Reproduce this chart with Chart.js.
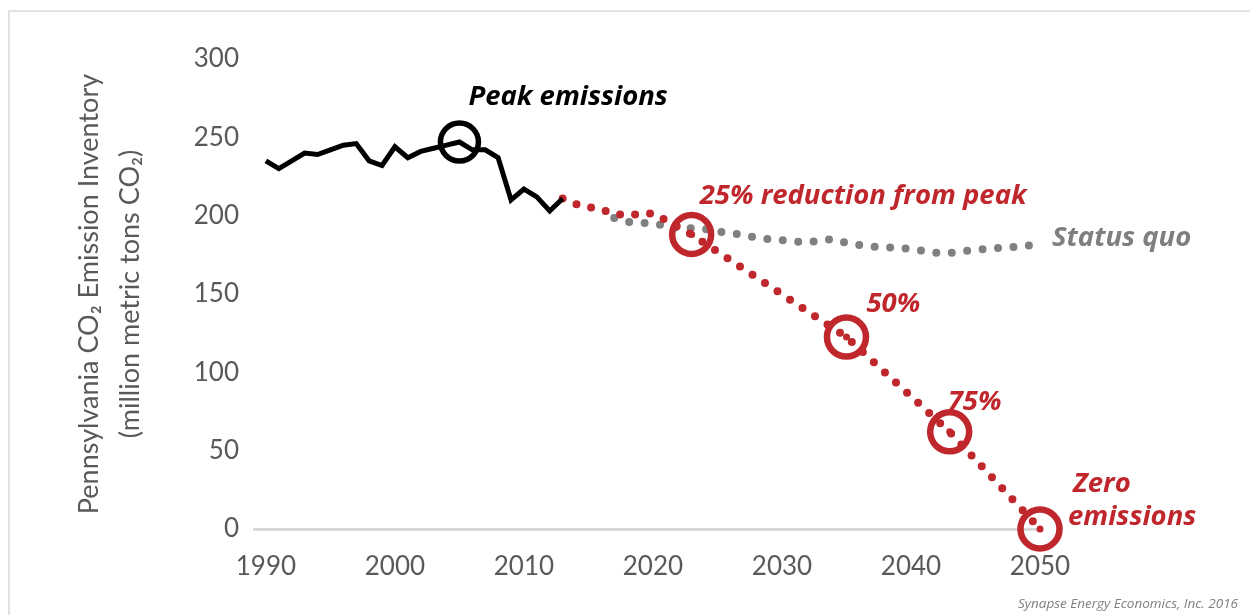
<!DOCTYPE html>
<html>
<head>
<meta charset="utf-8">
<script src="https://cdn.jsdelivr.net/npm/chart.js@4.4.0/dist/chart.umd.min.js"></script>
<style>
  html, body { margin: 0; padding: 0; background: #fff; }
  #wrap { position: relative; width: 1250px; height: 615px; overflow: hidden; }
  #frame { position: absolute; left: 8px; top: 10px; width: 1300px; height: 700px; border-top: 2px solid #e3e3e3; border-left: 2px solid #e3e3e3; }
  canvas { position: absolute; left: 0; top: 0; }
</style>
</head>
<body>
<div id="wrap">
  <div id="frame"></div>
  <canvas id="co2Chart" width="1250" height="615"></canvas>
</div>
<script>
// historic inventory
var histYears = [1990, 1991, 1992, 1993, 1994, 1995, 1996, 1997, 1998, 1999, 2000, 2001,
                 2002, 2003, 2004, 2005, 2006, 2007, 2008, 2009, 2010, 2011, 2012, 2013];
var histValues = [235, 230, 235, 240, 239, 242, 245, 246, 235, 232, 244, 237,
                  241, 243, 245, 247, 242, 242, 237, 210, 217, 212, 203, 211];

// status quo projection
var statusYears = [2017, 2018, 2019, 2020, 2021, 2022, 2023, 2024, 2025, 2026, 2027, 2028,
                   2029, 2030, 2031, 2032, 2033, 2034, 2035, 2036, 2037, 2038, 2039, 2040,
                   2041, 2042, 2043, 2044, 2045, 2046, 2047, 2048, 2049, 2050];
var statusValues = [198.5, 196, 195.5, 195, 193.5, 192, 192, 191.5, 190, 188.7, 187.8, 186,
                    185, 184.3, 183.5, 183, 184.3, 185, 182.5, 181.2, 180.3, 179.8, 179.5, 178.8,
                    177.5, 176.3, 176.2, 177.4, 178, 179, 179.5, 180, 180.8, 181.7];

// path to zero
var pathYears = [2013, 2014, 2015, 2016, 2017, 2018, 2019, 2020, 2023, 2035, 2043, 2050];
var pathValues = [211, 207.5, 205.5, 204, 201, 200.5, 201, 201.5, 188, 122.5, 62, 0];

// milestones on the path
var milestoneYears = [2023, 2035, 2043, 2050];
var milestoneValues = [188, 122.5, 62, 0];
var milestoneLabels = [['25% reduction from peak'], ['50%'], ['75%'], ['Zero', 'emissions']];

var peakYear = 2005;
var peakValue = 247;

var xTicks = [1990, 2000, 2010, 2020, 2030, 2040, 2050];
var yTicks = [0, 50, 100, 150, 200, 250, 300];

var RED = '#c0272d';
var GREY_TXT = '#595959';

function pts(xs, ys) {
    return xs.map(function(x, i) { return {x: x, y: ys[i]}; });
}

// text callouts next to the marks
var calloutPlugin = {
    id: 'callouts',
    afterDatasetsDraw: function(chart) {
        var ctx = chart.ctx;
        var sx = chart.scales.x, sy = chart.scales.y;
        function put(text, year, val, dx, dy, color) {
            ctx.fillStyle = color;
            ctx.fillText(text, sx.getPixelForValue(year) + dx, sy.getPixelForValue(val) + dy);
        }
        ctx.save();
        ctx.font = 'italic bold 27.5px "Open Sans"';
        ctx.textAlign = 'left';
        ctx.textBaseline = 'alphabetic';
        put('Peak emissions', peakYear, peakValue, 9, -37, '#000');
        put(milestoneLabels[0][0], milestoneYears[0], milestoneValues[0], 8, -30, RED);
        put(milestoneLabels[1][0], milestoneYears[1], milestoneValues[1], 20, -25, RED);
        put(milestoneLabels[2][0], milestoneYears[2], milestoneValues[2], -2, -22, RED);
        put(milestoneLabels[3][0], milestoneYears[3], milestoneValues[3], 33, -37, RED);
        put(milestoneLabels[3][1], milestoneYears[3], milestoneValues[3], 28, -4, RED);
        var n = statusYears.length - 1;
        put('Status quo', statusYears[n], statusValues[n], 12, 2, '#7f7f7f');

        ctx.font = 'italic 13.5px "Open Sans"';
        ctx.textAlign = 'right';
        ctx.fillStyle = '#7f7f7f';
        ctx.fillText('Synapse Energy Economics, Inc. 2016', 1238, 608);
        ctx.restore();
    }
};

var ctx = document.getElementById('co2Chart').getContext('2d');
var co2Chart = new Chart(ctx, {
    type: 'line',
    data: {
        datasets: [{
            label: 'Status quo',
            data: pts(statusYears, statusValues),
            borderColor: '#808080',
            borderWidth: 8,
            borderDash: [0, 15.5],
            borderCapStyle: 'round',
            pointRadius: 0,
            order: 6,
            clip: false
        }, {
            label: 'Path to zero',
            data: pts(pathYears, pathValues),
            borderColor: RED,
            borderWidth: 8,
            borderDash: [0, 15],
            borderCapStyle: 'round',
            pointRadius: 0,
            order: 5,
            clip: false
        }, {
            label: 'Historic',
            data: pts(histYears, histValues),
            borderColor: '#000',
            borderWidth: 5,
            borderJoinStyle: 'miter',
            pointRadius: 0,
            order: 4,
            clip: false
        }, {
            label: 'Milestones',
            data: pts(milestoneYears, milestoneValues),
            showLine: false,
            pointRadius: 19.5,
            pointBorderWidth: 6.5,
            pointBorderColor: RED,
            pointBackgroundColor: 'rgba(0,0,0,0)',
            order: 3,
            clip: false
        }, {
            label: 'Milestone centres',
            data: pts(milestoneYears, milestoneValues),
            showLine: false,
            pointRadius: 3.5,
            pointBorderWidth: 0,
            pointBackgroundColor: RED,
            order: 2,
            clip: false
        }, {
            label: 'Peak',
            data: [{x: peakYear, y: peakValue}],
            showLine: false,
            pointRadius: 19,
            pointBorderWidth: 5.5,
            pointBorderColor: '#000',
            pointBackgroundColor: 'rgba(0,0,0,0)',
            order: 1,
            clip: false
        }]
    },
    options: {
        responsive: false,
        animation: false,
        layout: { padding: { top: 59, right: 210, left: 0, bottom: 0 } },
        plugins: {
            legend: { display: false },
            tooltip: { enabled: false }
        },
        scales: {
            x: {
                type: 'linear',
                min: 1989,
                max: 2050,
                afterBuildTicks: function(s) { s.ticks = xTicks.map(function(v) { return {value: v}; }); },
                afterFit: function(s) { s.height = 86; },
                grid: { display: false },
                border: { display: false },
                ticks: {
                    color: GREY_TXT,
                    font: { family: 'Lato', size: 26 },
                    padding: 14,
                    maxRotation: 0,
                    autoSkip: false,
                    callback: function(v) { return String(v); }
                }
            },
            y: {
                min: 0,
                max: 300,
                afterBuildTicks: function(s) { s.ticks = yTicks.map(function(v) { return {value: v}; }); },
                afterFit: function(s) { s.width = 253; },
                grid: {
                    color: function(c) { return (c.tick && c.tick.value === 0) ? '#d9d9d9' : 'rgba(0,0,0,0)'; },
                    lineWidth: 3,
                    drawTicks: false
                },
                border: { display: false },
                ticks: {
                    color: GREY_TXT,
                    font: { family: 'Lato', size: 26 },
                    padding: 14,
                    callback: function(v) { return String(v); }
                },
                title: {
                    display: true,
                    text: ['Pennsylvania CO\u2082 Emission Inventory', '(million metric tons CO\u2082)'],
                    color: GREY_TXT,
                    font: { family: 'Lato', size: 27, lineHeight: 1.55 },
                    padding: { top: 68, bottom: 0 }
                }
            }
        }
    },
    plugins: [calloutPlugin]
});
</script>
</body>
</html>
